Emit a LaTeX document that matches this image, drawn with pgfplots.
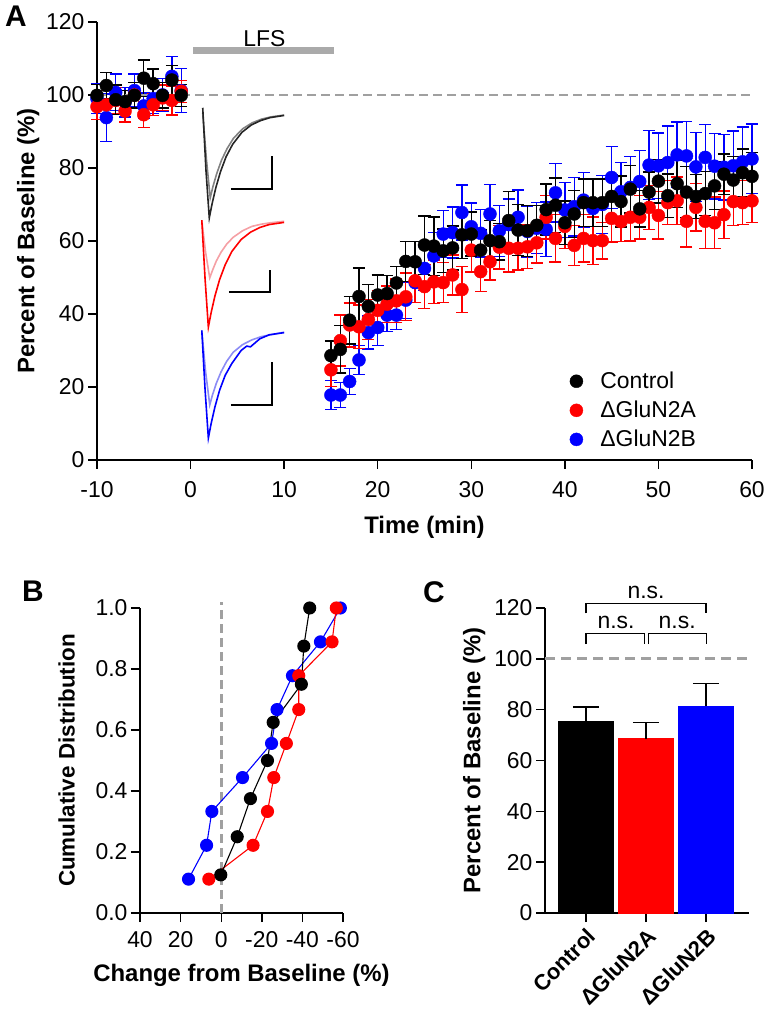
\documentclass[border=0pt]{standalone}
\usepackage{fontspec}
\setmainfont{Liberation Sans}
\usepackage{pgfplots}
\usepackage{pgfplotstable}
\pgfplotsset{compat=1.18}

\definecolor{dashgray}{RGB}{160,160,160}
\definecolor{lfsgray}{RGB}{170,170,170}
\definecolor{ltblack}{RGB}{130,130,130}
\definecolor{ltred}{RGB}{245,160,165}
\definecolor{ltblue}{RGB}{140,140,245}

% Panel A: percent of baseline over time (t, value, SEM)
\pgfplotstableread{
t v e
-10 99.9 3.0
-9 102.6 3.5
-8 98.7 4.0
-7 98.2 3.0
-6 99.9 3.5
-5 104.6 5.0
-4 103.1 4.0
-3 99.9 3.5
-2 104.1 4.0
-1 99.9 3.0
15 28.6 4.0
16 30.3 6.5
17 38.3 6.5
18 44.8 7.8
19 42.1 6.0
20 45.2 5.5
21 45.6 5.0
22 48.5 4.5
23 54.4 5.5
24 54.3 5.5
25 58.9 8.0
26 58.6 8.0
27 57.3 6.0
28 58.1 6.0
29 61.7 6.5
30 61.9 6.0
31 57.5 5.5
32 60.1 5.5
33 59.8 5.0
34 65.6 8.0
35 63.0 7.0
36 62.8 7.0
37 64.3 5.5
38 68.6 7.0
39 69.8 7.5
40 65.0 6.0
41 67.4 6.5
42 70.5 6.5
43 70.5 6.5
44 70.5 6.5
45 72.2 6.0
46 70.8 7.0
47 74.2 6.5
48 68.8 5.0
49 73.4 5.5
50 76.4 6.0
51 72.4 6.0
52 75.7 6.5
53 73.4 7.0
54 72.2 6.0
55 73.0 6.0
56 75.1 6.5
57 78.3 5.5
58 76.7 6.5
59 78.7 6.5
60 77.7 6.5
}\ctrl

\pgfplotstableread{
t v e
-10 96.8 3.5
-9 97.3 4.0
-8 98.5 3.5
-7 95.6 3.0
-6 100.0 3.5
-5 94.6 3.5
-4 97.3 3.0
-3 99.2 3.5
-2 98.5 4.0
-1 101.0 3.0
15 24.7 4.5
16 32.7 7.0
17 37.0 6.0
18 36.5 6.0
19 38.5 5.5
20 41.0 5.5
21 42.7 5.0
22 43.6 6.0
23 44.7 6.5
24 49.1 6.0
25 47.5 6.0
26 48.8 6.0
27 48.6 5.5
28 50.7 5.5
29 46.7 6.3
30 57.5 6.0
31 51.6 5.5
32 54.3 5.0
33 58.3 6.0
34 58.0 6.5
35 58.0 6.0
36 58.4 6.0
37 59.5 5.5
38 66.5 6.0
39 60.7 6.5
40 64.0 6.0
41 58.8 5.5
42 60.7 6.5
43 60.1 6.5
44 60.1 5.0
45 66.2 6.5
46 65.3 5.5
47 66.5 6.5
48 66.5 6.0
49 69.2 6.0
50 67.0 6.5
51 70.5 6.0
52 71.0 6.5
53 65.4 7.0
54 69.2 6.5
55 65.4 7.5
56 65.0 7.0
57 67.2 6.5
58 70.8 6.5
59 70.5 6.0
60 71.0 6.0
}\gluA

\pgfplotstableread{
t v e
-10 99.0 4.0
-9 93.8 6.5
-8 100.7 5.0
-7 98.0 4.0
-6 101.2 4.5
-5 97.0 3.5
-4 99.0 4.0
-3 100.0 4.5
-2 105.1 5.5
-1 101.2 6.0
15 17.8 4.0
16 17.8 3.5
17 21.5 3.5
18 27.4 4.0
19 34.9 4.5
20 36.3 5.0
21 39.7 4.5
22 39.7 4.0
23 43.8 5.0
24 48.6 5.5
25 52.5 6.0
26 55.9 6.5
27 61.9 6.5
28 62.3 7.0
29 67.8 7.5
30 63.9 6.5
31 62.1 6.5
32 67.4 8.0
33 62.8 7.0
34 64.5 7.0
35 66.5 7.5
36 62.6 7.0
37 63.5 7.0
38 63.2 7.5
39 73.2 8.0
40 68.5 7.5
41 69.4 8.0
42 71.2 7.5
43 68.9 8.0
44 70.0 8.0
45 77.4 8.5
46 73.5 8.0
47 74.7 8.5
48 76.3 8.5
49 80.8 9.5
50 80.6 9.0
51 81.5 10.0
52 83.6 9.0
53 83.3 9.5
54 80.3 9.5
55 82.9 9.0
56 80.5 9.0
57 80.2 9.0
58 80.6 9.5
59 81.7 9.5
60 82.5 9.5
}\gluB

\pgfplotsset{
  fig/.style={
    scale only axis,
    axis x line*=bottom, axis y line*=left,
    axis line style={line width=1.4bp, black},
    tick align=outside, major tick length=9bp,
    tick style={line width=1.4bp, black},
    ticklabel style={font=\fontsize{23}{23}\selectfont},
    /pgf/number format/assume math mode=true,
    label style={font=\bfseries\fontsize{24}{24}\selectfont},
    clip=false,
  },
  pts/.style={only marks, mark=*, mark size=6.5bp,
    error bars/y dir=both, error bars/y explicit,
    error bars/error bar style={line width=1.4bp},
    error bars/error mark options={rotate=90, mark size=6bp, line width=1.4bp}},
  trace/.style={line width=1.6bp, no marks, forget plot},
  cbar/.style={ybar, bar width=0.917, bar shift=0pt,
    error bars/y dir=plus, error bars/y explicit,
    error bars/error bar style={line width=1.4bp, black},
    error bars/error mark options={rotate=90, mark size=13bp, line width=1.4bp, black}},
}

\begin{document}
\begin{tikzpicture}
\path[use as bounding box] (0,0) rectangle (766bp,1018bp);

% ---------------- Panel A ----------------
\begin{axis}[fig,
  at={(97bp,558bp)}, anchor=south west,
  width=655bp, height=438bp,
  xmin=-10, xmax=60, ymin=0, ymax=120,
  xtick={-10,0,10,20,30,40,50,60},
  xticklabels={-10,0,10,20,30,40,50,60},
  ytick={0,20,40,60,80,100,120},
  xticklabel shift=9bp, xlabel shift=12bp,
  xlabel={Time (min)}, ylabel={Percent of Baseline (\%)},
  legend style={draw=none, fill=none, at={(axis cs:40.2,25.2)}, anchor=north west,
    font=\fontsize{23}{23}\selectfont, row sep=7bp},
  legend cell align=left,
  legend image code/.code={\path[draw=none] (-3bp,0bp) -- (22bp,0bp);
    \draw[#1] plot coordinates {(0bp,0bp)};},
]
\addlegendimage{only marks, mark=*, mark size=6.5bp, black}
\addlegendentry{Control}
\addlegendimage{only marks, mark=*, mark size=6.5bp, red}
\addlegendentry{ΔGluN2A}
\addlegendimage{only marks, mark=*, mark size=6.5bp, blue}
\addlegendentry{ΔGluN2B}

\addplot[pts, blue, forget plot] table[x=t, y=v, y error=e] {\gluB};
\addplot[pts, red, forget plot] table[x=t, y=v, y error=e] {\gluA};
\addplot[pts, black, forget plot] table[x=t, y=v, y error=e] {\ctrl};

% example traces (before / after LFS)
\addplot[trace, ltblack] coordinates {(1.3,95) (1.7,82.2) (2.1,71.8) (2.4,75.0) (2.8,78.5) (3.3,82.1) (3.9,85.3) (4.6,88.2) (5.6,90.8) (6.6,92.4) (7.6,93.4) (8.6,94.0) (10.0,94.5)};
\addplot[trace, black!85] coordinates {(1.3,96.5) (1.65,79.2) (2.0,66.3) (2.3,70.2) (2.7,74.6) (3.2,79.0) (3.8,83.1) (4.5,86.5) (5.5,89.8) (6.5,91.8) (7.5,93.0) (8.5,93.8) (10.0,94.4)};
\addplot[trace, ltred] coordinates {(1.2,65.7) (1.6,57.0) (2.05,49.9) (2.35,52.0) (2.75,54.5) (3.25,56.9) (3.85,59.1) (4.55,61.0) (5.55,62.8) (6.55,64.0) (7.55,64.6) (8.55,65.0) (10.0,65.4)};
\addplot[trace, red] coordinates {(1.2,65.7) (1.55,49.6) (1.9,36.4) (2.2,40.4) (2.6,44.9) (3.1,49.4) (3.7,53.5) (4.4,57.1) (5.4,60.4) (6.4,62.4) (7.4,63.7) (8.4,64.5) (10.0,65.1)};
\addplot[trace, ltblue] coordinates {(1.2,35.5) (1.6,24.3) (2.05,15.1) (2.35,17.9) (2.75,21.0) (3.25,24.1) (3.85,27.0) (4.55,29.5) (5.55,31.6) (6.55,32.9) (7.55,33.8) (8.55,34.3) (10.0,35.0)};
\addplot[trace, blue] coordinates {(1.2,35.5) (1.55,19.3) (1.9,6.0) (2.2,10.0) (2.6,14.5) (3.1,19.1) (3.7,23.2) (4.4,26.4) (5.4,30.0) (6.0,31.2) (6.4,31.0) (7.4,33.2) (8.4,34.3) (10.0,34.9)};
% scale bars
\addplot[trace, black, line width=1.4bp] coordinates {(4.32,74.2) (8.70,74.2) (8.70,83.3)};
\addplot[trace, black, line width=1.4bp] coordinates {(4.10,46.0) (8.48,46.0) (8.48,52.1)};
\addplot[trace, black, line width=1.4bp] coordinates {(4.32,15.1) (8.70,15.1) (8.70,26.8)};

\addplot[forget plot, dashgray, line width=2.8bp, dash pattern=on 9bp off 5bp] coordinates {(-10,100) (60,100)};
\draw[lfsgray, line width=7bp] (axis cs:0.3,112.3) -- (axis cs:15.3,112.3);
\node[font=\fontsize{23}{23}\selectfont] at (axis cs:7.9,115.4) {LFS};
\end{axis}

% ---------------- Panel B ----------------
\begin{axis}[fig,
  at={(140bp,105bp)}, anchor=south west,
  width=203bp, height=305bp,
  x dir=reverse, xmin=-60, xmax=40, ymin=0, ymax=1,
  xtick={40,20,0,-20,-40,-60},
  ytick={0,0.2,0.4,0.6,0.8,1.0},
  yticklabel style={/pgf/number format/.cd, fixed, fixed zerofill, precision=1},
  xticklabel shift=6bp, xlabel shift=10bp, ylabel shift=14bp,
  ylabel style={font=\bfseries\fontsize{22.5}{22.5}\selectfont},
  xlabel={Change from Baseline (\%)}, ylabel={Cumulative Distribution},
]
\addplot[dashgray, line width=2.8bp, dash pattern=on 9bp off 5bp] coordinates {(0,0) (0,1.02)};
\addplot[blue, line width=1.1bp, mark=*, mark size=6bp] coordinates {
  (16.1,0.111) (7.2,0.222) (4.6,0.333) (-10.5,0.444) (-24.8,0.556)
  (-27.5,0.667) (-35.1,0.778) (-48.9,0.889) (-58.7,1.0)};
\addplot[red, line width=1.1bp, mark=*, mark size=6bp] coordinates {
  (6.1,0.111) (-15.7,0.222) (-22.8,0.333) (-25.9,0.444) (-32.1,0.556)
  (-38.2,0.667) (-38.2,0.778) (-54.6,0.889) (-56.7,1.0)};
\addplot[black, line width=1.1bp, mark=*, mark size=6bp] coordinates {
  (0.2,0.125) (-7.9,0.25) (-14.4,0.375) (-22.8,0.5) (-25.6,0.625)
  (-39.5,0.75) (-40.7,0.875) (-43.6,1.0)};
\end{axis}

% ---------------- Panel C ----------------
\begin{axis}[fig,
  at={(545bp,105bp)}, anchor=south west,
  width=204bp, height=305bp,
  xmin=-0.683, xmax=2.717, ymin=0, ymax=120,
  xtick={0,1,2}, xticklabels={Control,ΔGluN2A,ΔGluN2B},
  xticklabel style={rotate=45, anchor=north east, font=\bfseries\fontsize{22}{22}\selectfont},
  ytick={0,20,40,60,80,100,120},
  ylabel shift=2bp,
  ylabel={Percent of Baseline (\%)},
]
\addplot[cbar, fill=black, draw=black] coordinates {(0,75.3) +- (0,5.7)};
\addplot[cbar, fill=red, draw=red] coordinates {(1,68.6) +- (0,6.4)};
\addplot[cbar, fill=blue, draw=blue] coordinates {(2,81.4) +- (0,8.8)};
\addplot[dashgray, line width=2.8bp, dash pattern=on 10bp off 6bp] coordinates {(-0.683,100) (2.717,100)};
\draw[line width=1.2bp] (axis cs:0,117.9) -- (axis cs:0,121.8) -- (axis cs:2,121.8) -- (axis cs:2,117.9);
\draw[line width=1.2bp] (axis cs:0,105.8) -- (axis cs:0,110) -- (axis cs:0.97,110) -- (axis cs:0.97,105.8);
\draw[line width=1.2bp] (axis cs:1.04,105.8) -- (axis cs:1.04,110) -- (axis cs:2.01,110) -- (axis cs:2.01,105.8);
\node[font=\fontsize{23}{23}\selectfont] at (axis cs:1,126.2) {n.s.};
\node[font=\fontsize{23}{23}\selectfont] at (axis cs:0.5,114.2) {n.s.};
\node[font=\fontsize{23}{23}\selectfont] at (axis cs:1.52,114.2) {n.s.};
\end{axis}

\node[font=\bfseries\fontsize{30}{30}\selectfont] at (16bp,1002bp) {A};
\node[font=\bfseries\fontsize{30}{30}\selectfont] at (33bp,427bp) {B};
\node[font=\bfseries\fontsize{30}{30}\selectfont] at (434bp,426bp) {C};
\end{tikzpicture}
\end{document}
